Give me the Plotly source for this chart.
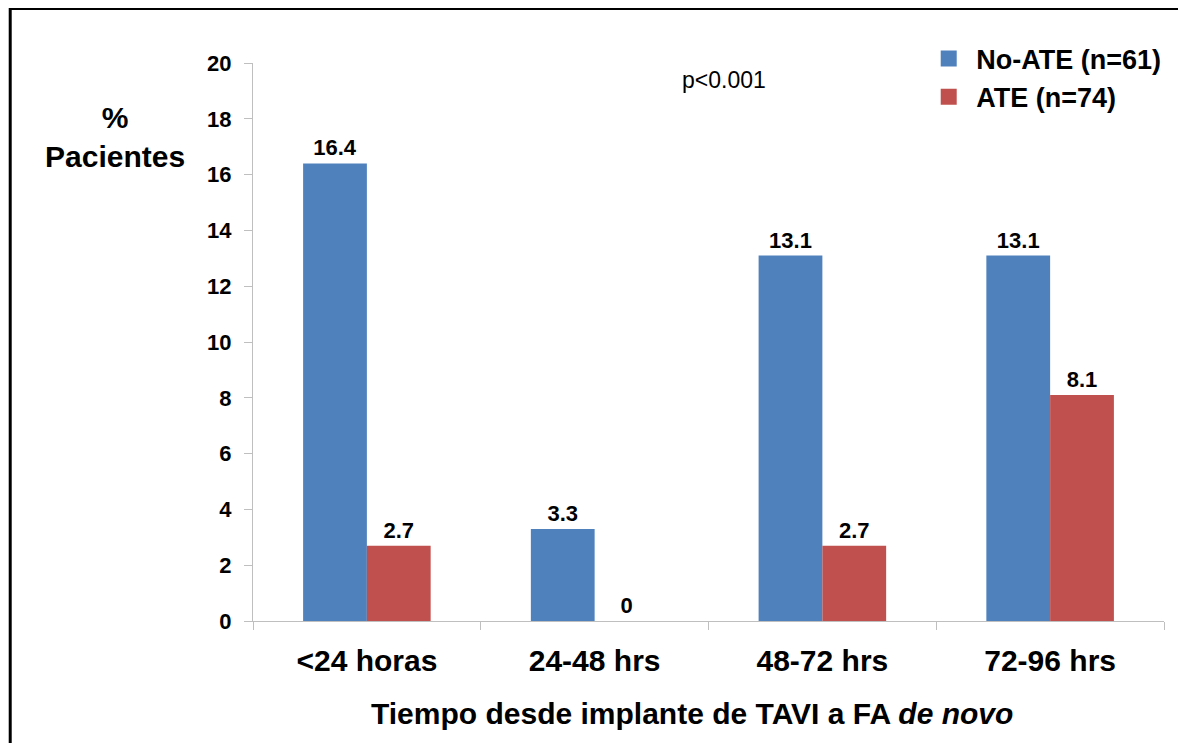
import plotly.graph_objects as go

categories = ['<24 horas', '24-48 hrs', '48-72 hrs', '72-96 hrs']
no_ate = [16.4, 3.3, 13.1, 13.1]
ate = [2.7, 0, 2.7, 8.1]
y_ticks = [0, 2, 4, 6, 8, 10, 12, 14, 16, 18, 20]
series_names = ['No-ATE (n=61)', 'ATE (n=74)']
colors = ['#4F81BD', '#C0504D']

FONT = 'Arial, Liberation Sans, sans-serif'

fig = go.Figure()
for vals, name, col in zip([no_ate, ate], series_names, colors):
    fig.add_trace(go.Bar(
        x=categories, y=vals, name=name, showlegend=False,
        marker=dict(color=col, line=dict(width=0)),
        text=[str(v) for v in vals], textposition='outside',
        textfont=dict(size=22, color='black', family=FONT, weight='bold'),
        cliponaxis=False
    ))
    # legend entry with a bigger square swatch
    fig.add_trace(go.Scatter(
        x=[None], y=[None], mode='markers', name=name,
        marker=dict(symbol='square', size=21, color=col)
    ))

# page has an 8px body margin, so the figure is a bit smaller than the window
fig.update_layout(
    width=1170, height=735,
    template='plotly_white',
    plot_bgcolor='white', paper_bgcolor='white',
    font=dict(family=FONT, color='black'),
    margin=dict(l=245, r=12, t=55, b=122),
    barmode='group', bargap=0.44, bargroupgap=0,
    showlegend=True,
    legend=dict(
        x=0.7335, y=1.051, xanchor='left', yanchor='top',
        font=dict(size=27, family=FONT, color='black', weight='bold'),
        bgcolor='rgba(0,0,0,0)', itemwidth=45, tracegroupgap=0
    ),
)

fig.update_xaxes(
    showline=True, linecolor='#BFBFBF', linewidth=1,
    showgrid=False, ticks='outside', tickson='boundaries',
    ticklen=8, tickcolor='#BFBFBF', ticklabelstandoff=13,
    tickfont=dict(size=30, family=FONT, color='black', weight='bold'),
)
fig.update_yaxes(
    range=[0, 20], tickvals=y_ticks,
    showline=True, linecolor='#BFBFBF', linewidth=1,
    showgrid=False, zeroline=False,
    ticks='outside', ticklen=8, tickcolor='#BFBFBF', ticklabelstandoff=8,
    tickfont=dict(size=22, family=FONT, color='black', weight='bold'),
)

# axis titles and note
fig.add_annotation(
    xref='paper', yref='paper', x=-0.152, y=0.867,
    xanchor='center', yanchor='middle',
    text='%<br>Pacientes', showarrow=False, align='center',
    font=dict(size=30, family=FONT, color='black', weight='bold')
)
fig.add_annotation(
    xref='paper', yref='paper', x=0.482, y=-0.165,
    xanchor='center', yanchor='middle',
    text='Tiempo desde implante de TAVI a FA <i>de novo</i>',
    showarrow=False,
    font=dict(size=30, family=FONT, color='black', weight='bold')
)
fig.add_annotation(
    xref='paper', yref='paper', x=0.517, y=0.9695,
    xanchor='center', yanchor='middle',
    text='p<0.001', showarrow=False,
    font=dict(size=23, family=FONT, color='black')
)

# frame lines (top and left edge of the original picture)
fig.add_shape(type='line', xref='paper', yref='paper',
              x0=-0.2665, x1=1.02, y0=1.0986, y1=1.0986,
              line=dict(color='black', width=4))
fig.add_shape(type='line', xref='paper', yref='paper',
              x0=-0.2665, x1=-0.2665, y0=1.0986, y1=-0.23,
              line=dict(color='black', width=3))

fig.write_html('out.html')
